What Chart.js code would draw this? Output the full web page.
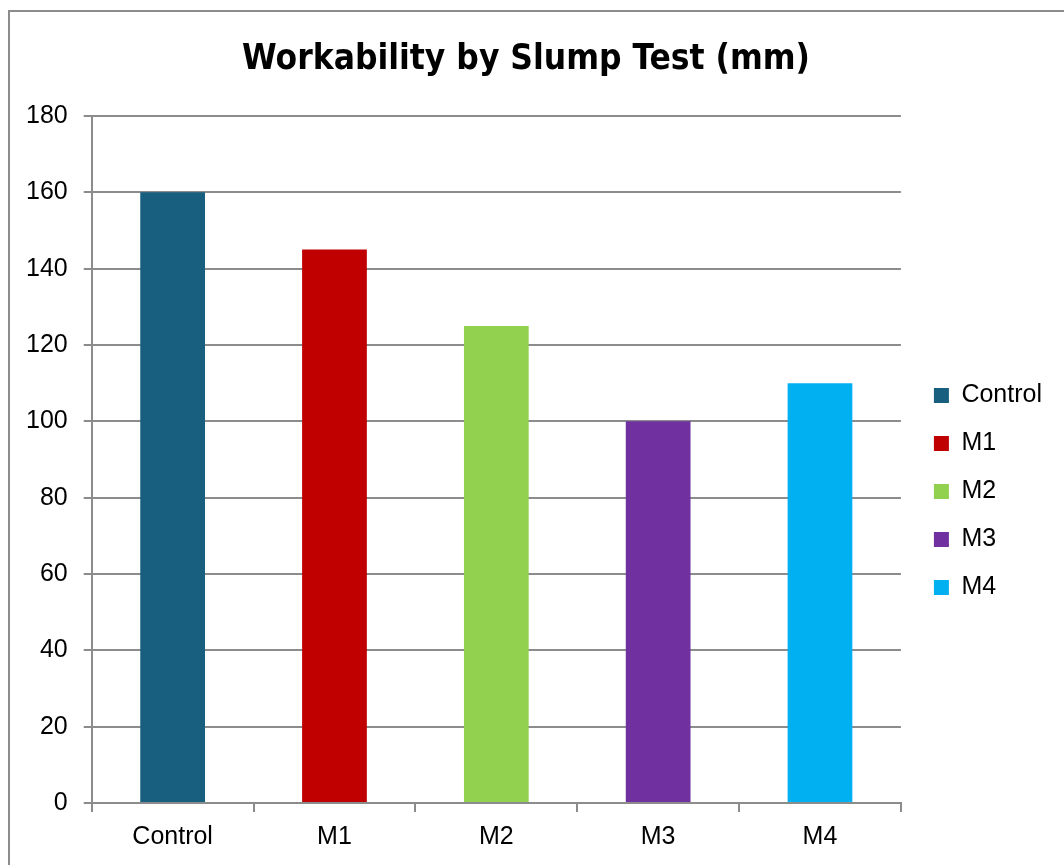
<!DOCTYPE html>
<html>
<head>
<meta charset="utf-8">
<script src="https://cdn.jsdelivr.net/npm/chart.js@4/dist/chart.umd.min.js"></script>
<style>
  html, body { margin: 0; padding: 0; background: #fff; overflow: hidden; }
  #wrap { position: absolute; left: 0; top: 0; width: 1064px; height: 865px; }
</style>
</head>
<body>
<div id="wrap"><canvas id="chart" width="1064" height="865"></canvas></div>
<script>
// Slump test results per mix
const categories = ['Control', 'M1', 'M2', 'M3', 'M4'];
const slumpValues = [160, 145, 125, 100, 110];
const barColors = ['#175E7F', '#C00000', '#92D050', '#7030A0', '#00B0F0'];
const yTicks = [0, 20, 40, 60, 80, 100, 120, 140, 160, 180];
const chartTitle = 'Workability by Slump Test (mm)';

const GRID = '#8C8C8C';
const LABEL_FONT = '"Liberation Sans", Arial, sans-serif';

// Outer frame around the whole chart
const framePlugin = {
  id: 'frame',
  beforeDraw(chart) {
    const ctx = chart.ctx;
    ctx.save();
    ctx.fillStyle = '#fff';
    ctx.fillRect(0, 0, chart.width, chart.height);
    ctx.strokeStyle = GRID;
    ctx.lineWidth = 2;
    ctx.strokeRect(9, 11, 1200, 1000);
    ctx.restore();
  }
};

// Nudge the legend away from the plot area and down a little
const legendOffset = {
  id: 'legendOffset',
  afterLayout(chart) {
    const lg = chart.legend;
    if (!lg) return;
    const dx = 10, dy = 41;
    lg.left += dx; lg.right += dx;
    lg.top += dy; lg.bottom += dy;
  }
};

new Chart(document.getElementById('chart'), {
  type: 'bar',
  data: {
    labels: categories,
    datasets: [{
      label: 'Slump (mm)',
      data: slumpValues,
      backgroundColor: barColors,
      borderWidth: 0,
      barPercentage: 0.8,
      categoryPercentage: 0.5
    }]
  },
  options: {
    responsive: false,
    animation: false,
    layout: { padding: { left: 10, right: 22, top: 39, bottom: 3 } },
    plugins: {
      title: {
        display: true,
        text: chartTitle,
        color: '#000',
        font: { family: '"DejaVu Sans Condensed", "Liberation Sans Narrow", sans-serif', size: 35, weight: 'bold' },
        padding: { top: 0, bottom: 35 }
      },
      legend: {
        position: 'right',
        align: 'center',
        labels: {
          color: '#000',
          font: { family: LABEL_FONT, size: 25 },
          boxWidth: 15,
          boxHeight: 15,
          padding: 23,
          generateLabels(chart) {
            return categories.map((c, i) => ({
              text: c,
              fillStyle: barColors[i],
              strokeStyle: barColors[i],
              lineWidth: 0,
              hidden: false,
              index: i
            }));
          }
        },
        onClick: null
      },
      tooltip: { enabled: false }
    },
    scales: {
      x: {
        grid: {
          display: true,
          drawOnChartArea: false,
          drawTicks: true,
          tickLength: 9,
          color: GRID,
          lineWidth: 2,
          offset: true
        },
        border: { display: true, color: GRID, width: 2 },
        ticks: {
          color: '#000',
          font: { family: LABEL_FONT, size: 25 },
          padding: 10
        }
      },
      y: {
        min: 0,
        max: 180,
        afterBuildTicks(axis) { axis.ticks = yTicks.map(v => ({ value: v })); },
        grid: {
          color: GRID,
          lineWidth: 2,
          tickLength: 8,
          drawTicks: true
        },
        border: { display: true, color: GRID, width: 2 },
        ticks: {
          color: '#000',
          font: { family: LABEL_FONT, size: 25 },
          padding: 16
        }
      }
    }
  },
  plugins: [framePlugin, legendOffset]
});
</script>
</body>
</html>
